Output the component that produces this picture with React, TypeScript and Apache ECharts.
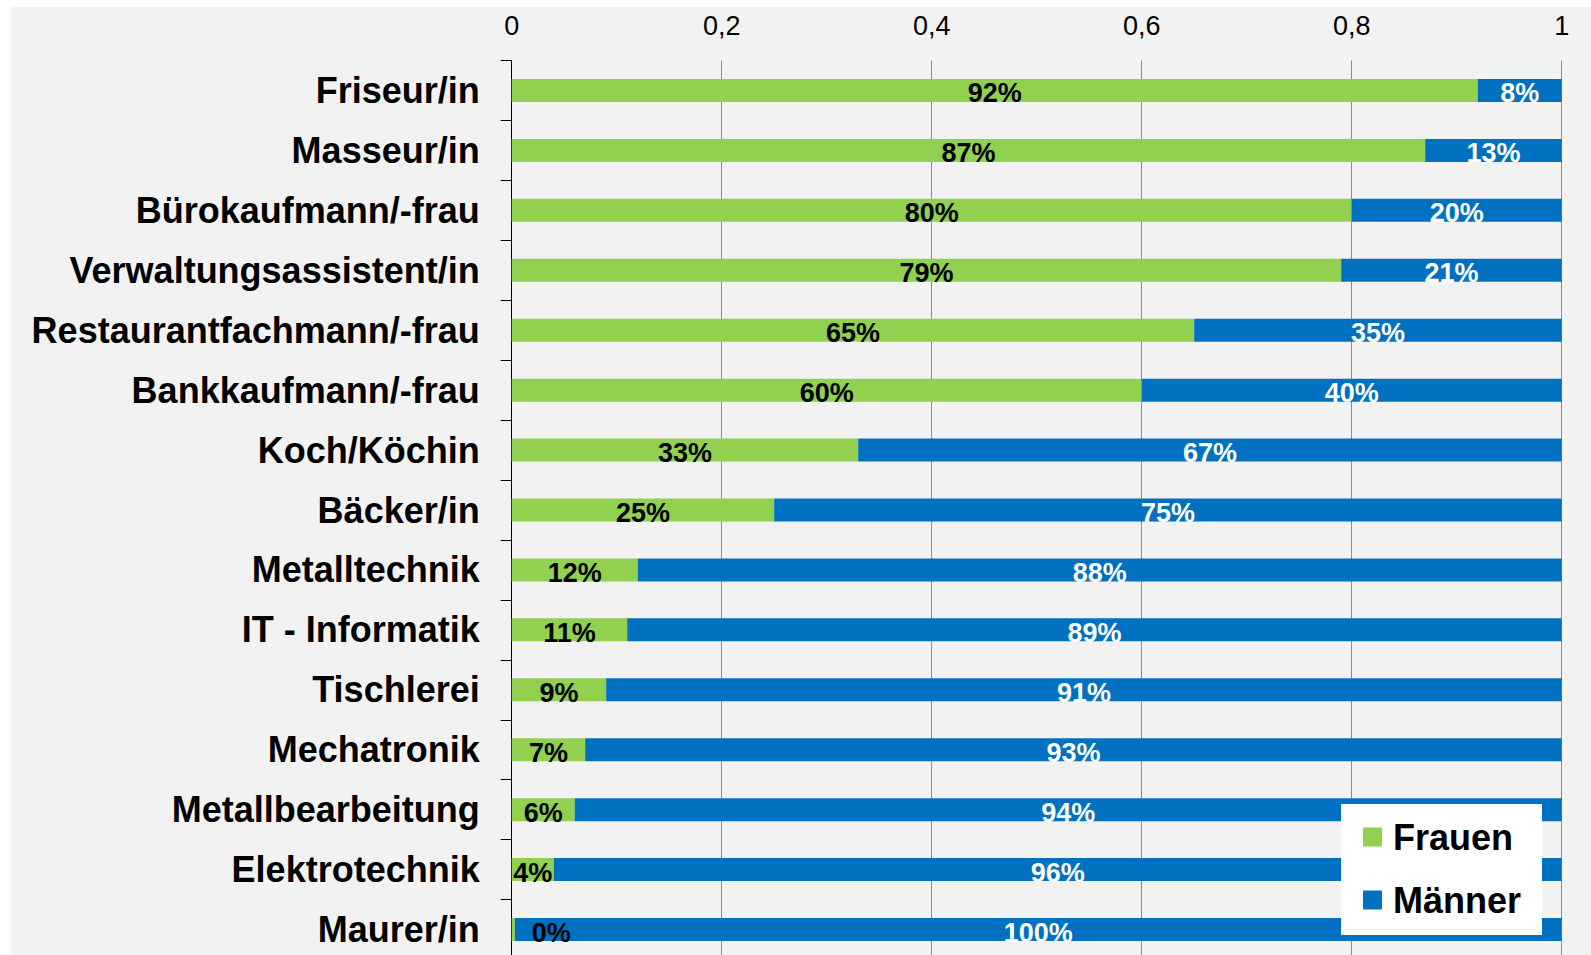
import React, { useEffect, useRef } from "react";
import * as echarts from "echarts";

const categories = [
  "Friseur/in",
  "Masseur/in",
  "Bürokaufmann/-frau",
  "Verwaltungsassistent/in",
  "Restaurantfachmann/-frau",
  "Bankkaufmann/-frau",
  "Koch/Köchin",
  "Bäcker/in",
  "Metalltechnik",
  "IT - Informatik",
  "Tischlerei",
  "Mechatronik",
  "Metallbearbeitung",
  "Elektrotechnik",
  "Maurer/in",
];

const frauen = [0.92, 0.87, 0.8, 0.79, 0.65, 0.6, 0.33, 0.25, 0.12, 0.11, 0.09, 0.07, 0.06, 0.04, 0.003];
const maenner = [0.08, 0.13, 0.2, 0.21, 0.35, 0.4, 0.67, 0.75, 0.88, 0.89, 0.91, 0.93, 0.94, 0.96, 0.997];

const xTicks = [0, 0.2, 0.4, 0.6, 0.8, 1];

const FONT = "'Liberation Sans', Arial, sans-serif";

export default function App() {
  const ref = useRef<HTMLDivElement>(null);

  useEffect(() => {
    if (!ref.current) return;
    const chart = echarts.init(ref.current, null, { renderer: "svg" });
    const pct = (p: any) => Math.round(p.value * 100) + "%";

    const frauenData = frauen.map((v) =>
      v < 0.01 ? { value: v, label: { offset: [38, 3] } } : v
    );

    chart.setOption({
      animation: false,
      backgroundColor: "#f2f2f2",
      graphic: [
        { type: "rect", shape: { x: 0, y: 0, width: 1591, height: 7 }, style: { fill: "#ffffff" }, silent: true },
        { type: "rect", shape: { x: 0, y: 0, width: 11, height: 955 }, style: { fill: "#ffffff" }, silent: true },
      ],
      grid: {
        left: 511.7,
        top: 60.5,
        width: 1050,
        height: 899,
        containLabel: false,
        outerBoundsMode: "none",
      },
      legend: {
        show: true,
        orient: "vertical",
        left: 1341,
        top: 804,
        backgroundColor: "#ffffff",
        padding: [15, 21, 17, 22],
        itemWidth: 19,
        itemHeight: 19,
        itemGap: 27,
        icon: "rect",
        textStyle: {
          fontSize: 36,
          fontWeight: "bold",
          color: "#000",
          fontFamily: FONT,
          lineHeight: 36,
          padding: [0, 0, 0, 6],
        },
        data: ["Frauen", "Männer"],
      },
      xAxis: {
        type: "value",
        position: "top",
        min: 0,
        max: 1,
        interval: 0.2,
        axisLine: { show: false },
        axisTick: { show: false },
        axisLabel: {
          fontSize: 27,
          color: "#000",
          fontFamily: FONT,
          margin: 21,
          formatter: (v: number) => {
            const t = xTicks.find((x) => Math.abs(x - v) < 1e-9);
            return t === undefined ? "" : String(t).replace(".", ",");
          },
        },
        splitLine: { show: true, lineStyle: { color: "#8c8c8c", width: 1 } },
      },
      yAxis: {
        type: "category",
        inverse: true,
        data: categories,
        axisLine: { show: true, lineStyle: { color: "#000", width: 1 } },
        axisTick: { show: true, length: 11, lineStyle: { color: "#000" } },
        axisLabel: {
          fontSize: 36,
          fontWeight: "bold",
          color: "#000",
          fontFamily: FONT,
          margin: 32,
        },
      },
      series: [
        {
          name: "Frauen",
          type: "bar",
          stack: "total",
          barWidth: 23,
          itemStyle: { color: "#92d050" },
          label: {
            show: true,
            position: "inside",
            formatter: pct,
            color: "#000",
            fontSize: 27,
            fontWeight: "bold",
            fontFamily: FONT,
            offset: [0, 3],
          },
          data: frauenData,
        },
        {
          name: "Männer",
          type: "bar",
          stack: "total",
          barWidth: 23,
          itemStyle: { color: "#0070c0" },
          label: {
            show: true,
            position: "inside",
            formatter: pct,
            color: "#fff",
            fontSize: 27,
            fontWeight: "bold",
            fontFamily: FONT,
            offset: [0, 3],
          },
          data: maenner,
        },
      ],
    });

    return () => chart.dispose();
  }, []);

  return (
    <div
      ref={ref}
      style={{ position: "absolute", left: 0, top: 0, width: 1591, height: 955 }}
    />
  );
}
